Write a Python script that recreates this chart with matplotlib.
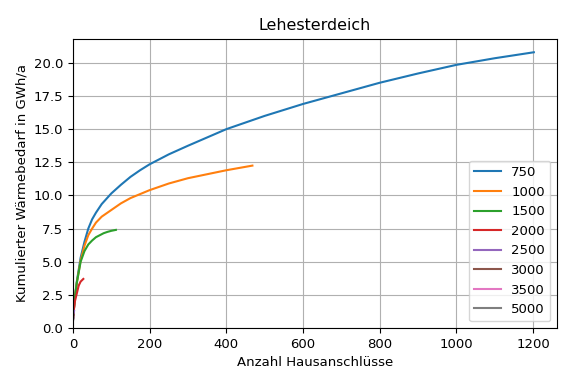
import matplotlib
matplotlib.use("Agg")
import matplotlib.pyplot as plt

plt.rcParams['font.size'] = 9.5

# Anzahl Hausanschlüsse / kumulierter Wärmebedarf (GWh/a) je Schwellenwert
x_750 = [0, 5, 10, 20, 30, 40, 50, 60, 75, 100, 125, 150, 175, 200, 250, 300, 400, 500, 600, 700, 800, 900, 1000, 1100, 1202]
y_750 = [0.6, 2.3, 3.5, 5.3, 6.5, 7.5, 8.2, 8.7, 9.35, 10.15, 10.8, 11.4, 11.9, 12.35, 13.1, 13.75, 15.0, 16.0, 16.9, 17.7, 18.5, 19.2, 19.85, 20.35, 20.8]

x_1000 = [0, 5, 10, 20, 30, 40, 50, 60, 75, 100, 125, 150, 175, 200, 250, 300, 350, 400, 468]
y_1000 = [0.6, 2.3, 3.4, 5.1, 6.2, 7.0, 7.5, 7.95, 8.4, 8.9, 9.4, 9.8, 10.1, 10.4, 10.9, 11.3, 11.6, 11.9, 12.25]

x_1500 = [0, 5, 10, 20, 30, 40, 50, 60, 70, 80, 90, 100, 112]
y_1500 = [0.6, 2.3, 3.4, 5.0, 5.8, 6.3, 6.6, 6.85, 7.0, 7.15, 7.25, 7.33, 7.4]

x_2000 = [0, 5, 10, 15, 20, 27]
y_2000 = [0.8, 2.0, 2.6, 3.2, 3.5, 3.7]

x_2500 = [0, 1, 2, 3]
y_2500 = [0.6, 0.9, 1.1, 1.3]

x_3000 = [0, 1, 2]
y_3000 = [0.6, 0.85, 1.0]

x_3500 = [0, 1]
y_3500 = [0.55, 0.8]

x_5000 = [0, 1]
y_5000 = [0.5, 0.75]

labels = ['750', '1000', '1500', '2000', '2500', '3000', '3500', '5000']
xs = [x_750, x_1000, x_1500, x_2000, x_2500, x_3000, x_3500, x_5000]
ys = [y_750, y_1000, y_1500, y_2000, y_2500, y_3000, y_3500, y_5000]

fig = plt.figure(figsize=(5.7, 3.82), dpi=100)
ax = fig.add_axes([0.128, 0.1414, 0.849, 0.757])

for x, y, lab in zip(xs, ys, labels):
    ax.plot(x, y, label=lab)

ax.set_xlim(left=0)
ax.set_ylim(bottom=0)
ax.grid(True)
ax.set_title('Lehesterdeich')
ax.set_xlabel('Anzahl Hausanschlüsse')
ax.set_ylabel('Kumulierter Wärmebedarf in GWh/a')
ax.legend(loc='lower right')

fig.savefig('out.png')
